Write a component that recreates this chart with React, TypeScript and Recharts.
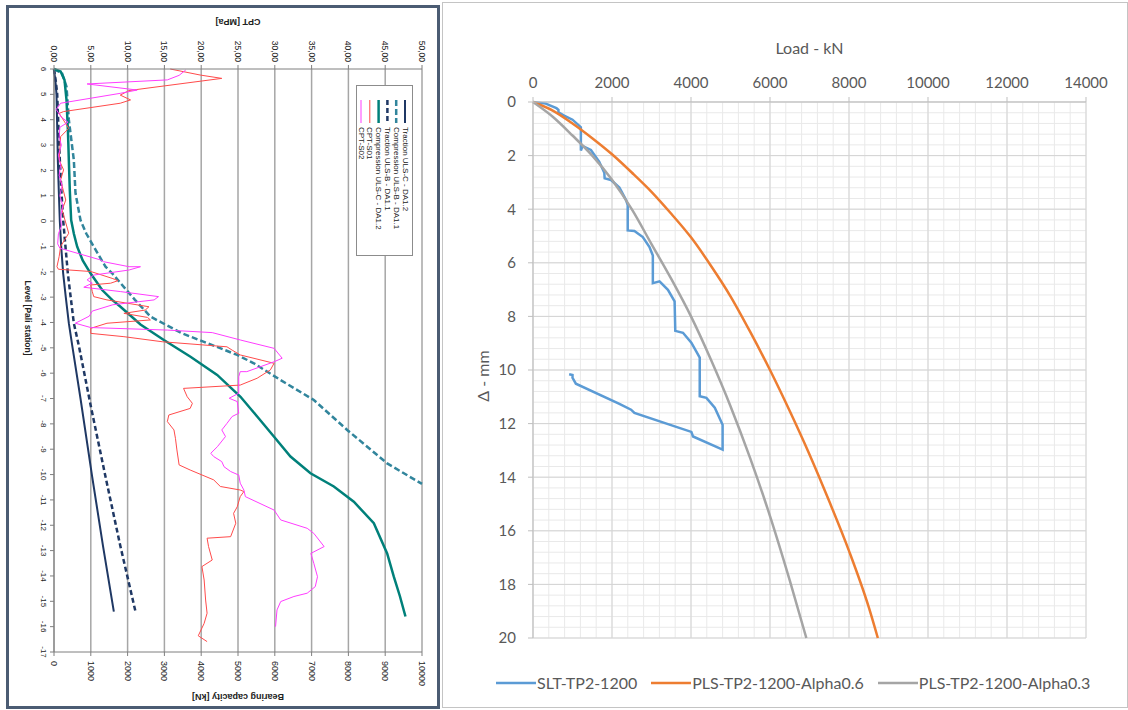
import React from "react";
import { ComposedChart, LineChart, Line, XAxis, YAxis, CartesianGrid, Legend } from "recharts";

// ---------- left sheet: bearing capacity + CPT against level ----------
const bearingTicks = [0, 1000, 2000, 3000, 4000, 5000, 6000, 7000, 8000, 9000, 10000];
const cptTicks = [0, 5, 10, 15, 20, 25, 30, 35, 40, 45, 50];
const levelTicks = [6, 5, 4, 3, 2, 1, 0, -1, -2, -3, -4, -5, -6, -7, -8, -9, -10, -11, -12, -13, -14, -15, -16, -17];

// b = bearing capacity [kN], L = level
const tractionUlsC = [
  { b: 0, L: 6 }, { b: 40, L: 5.5 }, { b: 68, L: 5.0 }, { b: 90, L: 3.5 }, { b: 104, L: 2.4 },
  { b: 130, L: 1.2 }, { b: 158, L: 0 }, { b: 195, L: -1.0 }, { b: 249, L: -2.06 }, { b: 320, L: -3.0 },
  { b: 403, L: -4.03 }, { b: 500, L: -4.95 }, { b: 720, L: -7.0 }, { b: 1037, L: -10.08 },
  { b: 1330, L: -12.8 }, { b: 1626, L: -15.41 },
];
const compressionUlsB = [
  { b: 0, L: 6 }, { b: 220, L: 5.83 }, { b: 340, L: 5.3 }, { b: 403, L: 4.0 }, { b: 539, L: 2.41 },
  { b: 584, L: 1.1 }, { b: 720, L: 0.04 }, { b: 880, L: -0.5 }, { b: 1082, L: -1.01 }, { b: 1400, L: -1.8 },
  { b: 1580, L: -2.06 }, { b: 2200, L: -3.11 }, { b: 2622, L: -3.77 }, { b: 3480, L: -4.43 },
  { b: 4420, L: -4.96 }, { b: 4977, L: -5.28 }, { b: 5431, L: -5.61 }, { b: 6156, L: -6.27 },
  { b: 7061, L: -7.06 }, { b: 7967, L: -8.24 }, { b: 9054, L: -9.56 }, { b: 10000, L: -10.37 },
];
const tractionUlsB = [
  { b: 0, L: 6 }, { b: 50, L: 5.5 }, { b: 86, L: 5.04 }, { b: 120, L: 3.7 }, { b: 158, L: 2.41 },
  { b: 200, L: 1.2 }, { b: 249, L: 0.04 }, { b: 312, L: -1.01 }, { b: 376, L: -2.06 }, { b: 430, L: -2.72 },
  { b: 539, L: -4.03 }, { b: 680, L: -4.95 }, { b: 1000, L: -7.3 }, { b: 1399, L: -10.08 },
  { b: 1800, L: -12.8 }, { b: 2215, L: -15.41 },
];
const compressionUlsC = [
  { b: 0, L: 6 }, { b: 180, L: 5.9 }, { b: 285, L: 5.57 }, { b: 340, L: 4.78 }, { b: 380, L: 3.5 },
  { b: 403, L: 2.41 }, { b: 430, L: 1.2 }, { b: 466, L: 0.04 }, { b: 540, L: -0.5 }, { b: 630, L: -1.01 },
  { b: 780, L: -1.55 }, { b: 992, L: -2.06 }, { b: 1309, L: -2.72 }, { b: 1580, L: -3.11 },
  { b: 1807, L: -3.38 }, { b: 2350, L: -4.08 }, { b: 2985, L: -4.69 }, { b: 3709, L: -5.35 },
  { b: 4434, L: -6.07 }, { b: 5068, L: -6.93 }, { b: 5521, L: -7.71 }, { b: 5974, L: -8.5 },
  { b: 6426, L: -9.29 }, { b: 6970, L: -9.95 }, { b: 7604, L: -10.47 }, { b: 8147, L: -11.07 },
  { b: 8691, L: -11.92 }, { b: 9053, L: -13.11 }, { b: 9234, L: -14.03 }, { b: 9400, L: -14.8 },
  { b: 9551, L: -15.6 },
];

// q = cone resistance [MPa], L = level
const cptS01 = [
  { q: 15.8, L: 6.0 }, { q: 19.9, L: 5.76 }, { q: 22.8, L: 5.63 }, { q: 10.2, L: 5.15 }, { q: 9.0, L: 4.97 },
  { q: 10.4, L: 4.78 }, { q: 9.0, L: 4.65 }, { q: 1.3, L: 4.32 }, { q: 0.7, L: 4.25 }, { q: 2.0, L: 3.66 },
  { q: 0.9, L: 3.33 }, { q: 0.7, L: 2.41 }, { q: 1.3, L: 2.02 }, { q: 0.9, L: 1.62 }, { q: 1.6, L: 0.83 },
  { q: 1.1, L: 0.44 }, { q: 2.0, L: -0.48 }, { q: 0.9, L: -1.0 }, { q: 0.7, L: -1.4 }, { q: 0.4, L: -1.8 },
  { q: 0.6, L: -1.9 }, { q: 5.0, L: -1.99 }, { q: 7.9, L: -2.26 }, { q: 8.7, L: -2.35 }, { q: 7.7, L: -2.45 },
  { q: 5.0, L: -2.52 }, { q: 5.2, L: -2.78 }, { q: 5.4, L: -2.98 }, { q: 7.2, L: -3.11 }, { q: 12.9, L: -3.38 },
  { q: 12.4, L: -3.51 }, { q: 9.5, L: -3.64 }, { q: 12.7, L: -3.8 }, { q: 13.1, L: -3.9 }, { q: 7.2, L: -4.03 },
  { q: 5.0, L: -4.23 }, { q: 5.0, L: -4.43 }, { q: 9.5, L: -4.56 }, { q: 14.7, L: -4.76 }, { q: 23.5, L: -4.96 },
  { q: 24.2, L: -5.09 }, { q: 25.3, L: -5.28 }, { q: 29.9, L: -5.61 }, { q: 29.4, L: -5.87 }, { q: 27.6, L: -6.2 },
  { q: 25.3, L: -6.47 }, { q: 17.6, L: -6.6 }, { q: 18.1, L: -6.93 }, { q: 18.8, L: -7.19 }, { q: 18.5, L: -7.39 },
  { q: 15.6, L: -7.65 }, { q: 15.4, L: -7.91 }, { q: 16.3, L: -8.24 }, { q: 16.5, L: -8.57 }, { q: 16.7, L: -9.03 },
  { q: 17.0, L: -9.62 }, { q: 18.5, L: -9.82 }, { q: 21.7, L: -10.21 }, { q: 22.6, L: -10.47 }, { q: 25.3, L: -10.61 },
  { q: 25.8, L: -10.67 }, { q: 25.3, L: -10.87 }, { q: 24.9, L: -11.27 }, { q: 24.4, L: -11.53 }, { q: 24.7, L: -11.92 },
  { q: 24.0, L: -12.45 }, { q: 20.8, L: -12.51 }, { q: 21.0, L: -12.84 }, { q: 21.5, L: -13.37 }, { q: 20.1, L: -13.63 },
  { q: 20.4, L: -14.16 }, { q: 20.6, L: -14.95 }, { q: 20.8, L: -15.47 }, { q: 20.4, L: -15.87 }, { q: 19.6, L: -16.36 },
  { q: 20.8, L: -16.59 },
];
const cptS02 = [
  { q: 17.9, L: 5.96 }, { q: 17.0, L: 5.75 }, { q: 15.4, L: 5.57 }, { q: 4.5, L: 5.41 }, { q: 11.3, L: 5.17 },
  { q: 9.0, L: 5.04 }, { q: 0.9, L: 4.65 }, { q: 0.3, L: 4.4 }, { q: 1.0, L: 4.1 }, { q: 1.9, L: 3.9 },
  { q: 0.8, L: 3.7 }, { q: 0.7, L: 3.3 }, { q: 1.0, L: 3.0 }, { q: 0.6, L: 2.6 }, { q: 0.9, L: 2.2 },
  { q: 0.7, L: 1.8 }, { q: 1.1, L: 1.4 }, { q: 0.8, L: 1.0 }, { q: 1.2, L: 0.6 }, { q: 0.9, L: 0.2 },
  { q: 1.0, L: -0.2 }, { q: 0.6, L: -0.5 }, { q: 0.5, L: -0.9 }, { q: 0.8, L: -1.07 }, { q: 6.3, L: -1.53 },
  { q: 6.7, L: -1.6 }, { q: 10.2, L: -1.8 }, { q: 11.75, L: -1.8 }, { q: 10.2, L: -1.93 }, { q: 5.4, L: -2.13 },
  { q: 4.5, L: -2.32 }, { q: 5.2, L: -2.45 }, { q: 4.05, L: -2.61 }, { q: 9.0, L: -2.78 }, { q: 14.2, L: -2.98 },
  { q: 13.6, L: -3.11 }, { q: 8.0, L: -3.3 }, { q: 5.2, L: -3.55 }, { q: 4.8, L: -3.75 }, { q: 2.9, L: -4.03 },
  { q: 5.0, L: -4.2 }, { q: 15.4, L: -4.3 }, { q: 21.5, L: -4.4 }, { q: 25.3, L: -4.69 }, { q: 29.9, L: -5.02 },
  { q: 31.0, L: -5.41 }, { q: 29.9, L: -5.55 }, { q: 26.2, L: -5.94 }, { q: 25.3, L: -5.94 }, { q: 25.1, L: -6.14 },
  { q: 25.1, L: -6.79 }, { q: 23.8, L: -6.99 }, { q: 24.9, L: -7.12 }, { q: 25.1, L: -7.58 }, { q: 24.2, L: -7.71 },
  { q: 23.5, L: -7.98 }, { q: 22.8, L: -8.24 }, { q: 23.3, L: -8.5 }, { q: 22.2, L: -8.9 }, { q: 21.3, L: -9.16 },
  { q: 21.7, L: -9.29 }, { q: 22.8, L: -9.49 }, { q: 23.1, L: -9.69 }, { q: 24.0, L: -9.88 }, { q: 25.1, L: -10.02 },
  { q: 25.3, L: -10.34 }, { q: 25.8, L: -10.61 }, { q: 26.0, L: -10.87 }, { q: 29.9, L: -11.4 }, { q: 30.8, L: -11.79 },
  { q: 34.4, L: -12.12 }, { q: 35.3, L: -12.32 }, { q: 36.7, L: -12.84 }, { q: 34.9, L: -13.11 }, { q: 35.3, L: -13.5 },
  { q: 35.8, L: -14.03 }, { q: 35.5, L: -14.42 }, { q: 34.4, L: -14.68 }, { q: 32.6, L: -14.81 }, { q: 30.8, L: -15.01 },
  { q: 30.3, L: -15.34 }, { q: 30.1, L: -16.0 },
];

// ---------- right sheet: load-settlement ----------
const loadTicks = [0, 2000, 4000, 6000, 8000, 10000, 12000, 14000];
const dispTicks = [0, 2, 4, 6, 8, 10, 12, 14, 16, 18, 20];
const loadMinorTicks = Array.from({ length: 36 }, (_, i) => i * 400);
const dispMinorTicks = Array.from({ length: 51 }, (_, i) => Math.round(i * 4) / 10);

const sltTp2 = [
  { load: 0, d: 0 }, { load: 322, d: 0.06 }, { load: 593, d: 0.23 }, { load: 644, d: 0.29 }, { load: 644, d: 0.39 },
  { load: 788, d: 0.51 }, { load: 1000, d: 0.66 }, { load: 1212, d: 0.94 }, { load: 1212, d: 1.81 },
  { load: 1254, d: 1.64 }, { load: 1466, d: 1.79 }, { load: 1678, d: 2.23 }, { load: 1805, d: 2.64 },
  { load: 1814, d: 2.85 }, { load: 1975, d: 2.91 }, { load: 2187, d: 3.19 }, { load: 2356, d: 3.66 },
  { load: 2398, d: 3.85 }, { load: 2398, d: 4.79 }, { load: 2568, d: 4.81 }, { load: 2780, d: 5.04 },
  { load: 2949, d: 5.41 }, { load: 3034, d: 5.73 }, { load: 3034, d: 6.76 }, { load: 3204, d: 6.69 },
  { load: 3416, d: 7.01 }, { load: 3585, d: 7.44 }, { load: 3602, d: 8.54 }, { load: 3797, d: 8.61 },
  { load: 4009, d: 8.98 }, { load: 4221, d: 9.54 }, { load: 4221, d: 10.98 }, { load: 4390, d: 11.04 },
  { load: 4602, d: 11.41 }, { load: 4800, d: 12.04 }, { load: 4800, d: 12.97 }, { load: 4051, d: 12.48 },
  { load: 4009, d: 12.31 }, { load: 2568, d: 11.6 }, { load: 2483, d: 11.48 }, { load: 2187, d: 11.26 },
  { load: 1085, d: 10.51 }, { load: 1000, d: 10.29 }, { load: 1000, d: 10.19 }, { load: 915, d: 10.16 },
];
const plsAlpha06 = [
  { load: 0, d: 0 }, { load: 500, d: 0.32 }, { load: 1000, d: 0.8 }, { load: 1500, d: 1.35 }, { load: 2000, d: 1.95 },
  { load: 2500, d: 2.63 }, { load: 3000, d: 3.35 }, { load: 3500, d: 4.17 }, { load: 4000, d: 5.05 },
  { load: 4500, d: 6.1 }, { load: 5000, d: 7.25 }, { load: 5500, d: 8.58 }, { load: 6000, d: 10.0 },
  { load: 6500, d: 11.53 }, { load: 7000, d: 13.15 }, { load: 7500, d: 14.9 }, { load: 8000, d: 16.75 },
  { load: 8500, d: 18.85 }, { load: 8730, d: 20 },
];
const plsAlpha03 = [
  { load: 0, d: 0 }, { load: 500, d: 0.55 }, { load: 1000, d: 1.25 }, { load: 1500, d: 2.0 }, { load: 2000, d: 2.9 },
  { load: 2500, d: 4.0 }, { load: 3000, d: 5.3 }, { load: 3500, d: 6.6 }, { load: 4000, d: 8.0 },
  { load: 4500, d: 9.6 }, { load: 5000, d: 11.35 }, { load: 5500, d: 13.3 }, { load: 6000, d: 15.45 },
  { load: 6500, d: 17.85 }, { load: 6920, d: 20 },
];

const navy = "#1f3864";
const tealDash = "#31859c";
const teal = "#00807a";
const red = "#ff4b4b";
const magenta = "#ff3dff";

const leftSeries = [
  { name: "Traction ULS-C - DA1.2", color: navy, dash: undefined, w: 2 },
  { name: "Compression ULS-B - DA1.1", color: tealDash, dash: "6 3", w: 2.5 },
  { name: "Traction ULS-B - DA1.1", color: navy, dash: "5 3", w: 2.5 },
  { name: "Compression ULS-C - DA1.2", color: teal, dash: undefined, w: 2.5 },
  { name: "CPT-S01", color: red, dash: undefined, w: 1 },
  { name: "CPT-S02", color: magenta, dash: undefined, w: 1 },
];

const rightSeries = [
  { name: "SLT-TP2-1200", color: "#5b9bd5" },
  { name: "PLS-TP2-1200-Alpha0.6", color: "#ed7d31" },
  { name: "PLS-TP2-1200-Alpha0.3", color: "#a5a5a5" },
];

const axisGrey = "#7f7f7f";

const scaleOf = (axis: any, v: number) => {
  const s = axis && axis.scale;
  if (!s) return NaN;
  return typeof s === "function" ? s(v) : s.map(v);
};

const CptTick = (props: any) => {
  const { x, y, payload } = props;
  return (
    <text x={x} y={y} transform={`rotate(90 ${x} ${y})`} textAnchor="end" dominantBaseline="central" fontSize={8.5} fill="#222">
      {payload.value.toFixed(2).replace(".", ",")}
    </text>
  );
};

const BearingTick = (props: any) => {
  const { x, y, payload } = props;
  return (
    <text x={x} y={y} transform={`rotate(90 ${x} ${y})`} textAnchor="start" dominantBaseline="central" fontSize={9} fill="#222">
      {payload.value}
    </text>
  );
};

const LevelTick = (props: any) => {
  const { x, y, payload } = props;
  return (
    <text x={x} y={y} transform={`rotate(90 ${x} ${y})`} textAnchor="middle" dominantBaseline="central" fontSize={8} fill="#222">
      {payload.value}
    </text>
  );
};

const LeftLegend = () => (
  <svg width={57} height={171}>
    <rect x={0.5} y={0.5} width={56} height={170} fill="#fff" stroke="#8c8c8c" />
    {leftSeries.map((s, i) => {
      const x = 49 - i * 8.8;
      return (
        <g key={s.name}>
          <line x1={x} y1={15} x2={x} y2={38} stroke={s.color} strokeWidth={s.w} strokeDasharray={s.dash} />
          <text x={x} y={42} transform={`rotate(90 ${x} 42)`} textAnchor="start" dominantBaseline="central" fontSize={8} fill="#222">
            {s.name}
          </text>
        </g>
      );
    })}
  </svg>
);

function LeftChart() {
  return (
    <ComposedChart width={440} height={710} margin={{ top: 29, right: 18, bottom: 18, left: 14 }} style={{ fontFamily: "Liberation Sans" }}>
      <CartesianGrid xAxisId="b" yAxisId="lvl" horizontal={false} stroke="#a6a6a6" strokeWidth={1.5} />
      <XAxis
        xAxisId="b" dataKey="b" type="number" domain={[0, 10000]} ticks={bearingTicks} orientation="bottom"
        height={40} tickSize={4} tickMargin={5} stroke={axisGrey} tick={BearingTick} interval={0}
        label={(p: any) => {
          const cx = p.viewBox.x + p.viewBox.width / 2;
          const cy = p.viewBox.y + 45;
          return (
            <text x={cx} y={cy} transform={`rotate(180 ${cx} ${cy})`} textAnchor="middle" dominantBaseline="central" fontSize={9} fontWeight="bold" fill="#222">
              Bearing capacity [kN]
            </text>
          );
        }}
      />
      <XAxis
        xAxisId="q" dataKey="q" type="number" domain={[0, 50]} ticks={cptTicks} orientation="top"
        height={40} tickSize={4} tickMargin={3} stroke={axisGrey} tick={CptTick} interval={0}
        label={(p: any) => {
          const cx = p.viewBox.x + p.viewBox.width / 2;
          const cy = p.viewBox.y - 7;
          return (
            <text x={cx} y={cy} transform={`rotate(180 ${cx} ${cy})`} textAnchor="middle" dominantBaseline="central" fontSize={9} fontWeight="bold" fill="#222">
              CPT [MPa]
            </text>
          );
        }}
      />
      <YAxis
        yAxisId="lvl" dataKey="L" type="number" domain={[-17, 6]} ticks={levelTicks} width={40}
        tickSize={4} tickMargin={7} stroke={axisGrey} tick={LevelTick} interval={0}
        label={(p: any) => {
          const cx = p.viewBox.x + 14;
          const cy = p.viewBox.y + 249;
          return (
            <text x={cx} y={cy} transform={`rotate(90 ${cx} ${cy})`} textAnchor="middle" dominantBaseline="central" fontSize={8.5} fontWeight="bold" fill="#222">
              Level [Pali station]
            </text>
          );
        }}
      />
      <Line xAxisId="b" yAxisId="lvl" data={tractionUlsC} dataKey="L" name={leftSeries[0].name} stroke={navy} strokeWidth={2} dot={false} activeDot={false} isAnimationActive={false} />
      <Line xAxisId="b" yAxisId="lvl" data={compressionUlsB} dataKey="L" name={leftSeries[1].name} stroke={tealDash} strokeWidth={2.5} strokeDasharray="6 3" dot={false} activeDot={false} isAnimationActive={false} />
      <Line xAxisId="b" yAxisId="lvl" data={tractionUlsB} dataKey="L" name={leftSeries[2].name} stroke={navy} strokeWidth={2.5} strokeDasharray="5 3" dot={false} activeDot={false} isAnimationActive={false} />
      <Line xAxisId="b" yAxisId="lvl" data={compressionUlsC} dataKey="L" name={leftSeries[3].name} stroke={teal} strokeWidth={2.5} dot={false} activeDot={false} isAnimationActive={false} />
      <Line xAxisId="q" yAxisId="lvl" data={cptS01} dataKey="L" name="CPT-S01" stroke={red} strokeWidth={1} dot={false} activeDot={false} isAnimationActive={false} />
      <Line xAxisId="q" yAxisId="lvl" data={cptS02} dataKey="L" name="CPT-S02" stroke={magenta} strokeWidth={1} dot={false} activeDot={false} isAnimationActive={false} />
      <Legend layout="horizontal" verticalAlign="middle" align="center" wrapperStyle={{ left: 356, top: 85, width: 57, height: 171 }} content={() => <LeftLegend />} />
    </ComposedChart>
  );
}

const RightLegend = () => (
  <div style={{ display: "flex", alignItems: "center", fontFamily: "Lato", fontSize: 16, color: "#595959", whiteSpace: "nowrap" }}>
    {rightSeries.map((s) => (
      <div key={s.name} style={{ display: "flex", alignItems: "center", marginRight: 14 }}>
        <svg width={40} height={6}>
          <line x1={0} y1={3} x2={40} y2={3} stroke={s.color} strokeWidth={2.5} />
        </svg>
        <span style={{ marginLeft: 1 }}>{s.name}</span>
      </div>
    ))}
  </div>
);

function RightChart() {
  return (
    <LineChart width={685} height={710} margin={{ top: 62, right: 42, bottom: 72, left: 30 }} style={{ fontFamily: "Lato" }}>
      <CartesianGrid
        stroke="#e9e9e9"
        syncWithTicks={false}
        verticalCoordinatesGenerator={(p: any) => loadMinorTicks.map((v) => scaleOf(p.xAxis, v)).filter((v) => !isNaN(v))}
        horizontalCoordinatesGenerator={(p: any) => dispMinorTicks.map((v) => scaleOf(p.yAxis, v)).filter((v) => !isNaN(v))}
      />
      <CartesianGrid stroke="#d4d4d4" />
      <XAxis
        dataKey="load" type="number" domain={[0, 14000]} ticks={loadTicks} orientation="top" height={40}
        tickSize={5} tickMargin={9} stroke="#bfbfbf" tick={{ fill: "#595959", fontSize: 15 }} interval={0}
        label={(p: any) => (
          <text x={p.viewBox.x + p.viewBox.width / 2} y={p.viewBox.y - 15} textAnchor="middle" dominantBaseline="central" fontSize={16} fill="#595959">
            Load - kN
          </text>
        )}
      />
      <YAxis
        dataKey="d" type="number" domain={[0, 20]} ticks={dispTicks} reversed width={60}
        tickSize={5} tickMargin={12} stroke="#bfbfbf" tick={{ fill: "#595959", fontSize: 15 }} interval={0}
        label={(p: any) => {
          const cx = p.viewBox.x + 9;
          const cy = p.viewBox.y + p.viewBox.height / 2 + 6;
          return (
            <text x={cx} y={cy} transform={`rotate(-90 ${cx} ${cy})`} textAnchor="middle" dominantBaseline="central" fontSize={16} fill="#595959">
              Δ - mm
            </text>
          );
        }}
      />
      <Line data={sltTp2} dataKey="d" name={rightSeries[0].name} type="linear" stroke="#5b9bd5" strokeWidth={2.5} dot={false} activeDot={false} isAnimationActive={false} />
      <Line data={plsAlpha06} dataKey="d" name={rightSeries[1].name} type="monotone" stroke="#ed7d31" strokeWidth={2.5} dot={false} activeDot={false} isAnimationActive={false} />
      <Line data={plsAlpha03} dataKey="d" name={rightSeries[2].name} type="monotone" stroke="#a5a5a5" strokeWidth={2.5} dot={false} activeDot={false} isAnimationActive={false} />
      <Legend layout="horizontal" verticalAlign="middle" align="center" wrapperStyle={{ left: 53, top: 673, width: 640, height: 20 }} content={() => <RightLegend />} />
    </LineChart>
  );
}

export default function App() {
  return (
    <div style={{ position: "absolute", left: 0, top: 0, width: 1128, height: 710, background: "#fff", overflow: "hidden" }}>
      <div style={{ position: "absolute", left: 0, top: 0 }}>
        <LeftChart />
      </div>
      <div style={{ position: "absolute", left: 443, top: 0 }}>
        <RightChart />
      </div>
      <div style={{ position: "absolute", left: 6, top: 5, width: 428, height: 698, border: "3px solid #4b5c73", pointerEvents: "none" }} />
      <div style={{ position: "absolute", left: 442, top: 2, width: 684, height: 704, border: "1px solid #c4c4c4", pointerEvents: "none" }} />
    </div>
  );
}
